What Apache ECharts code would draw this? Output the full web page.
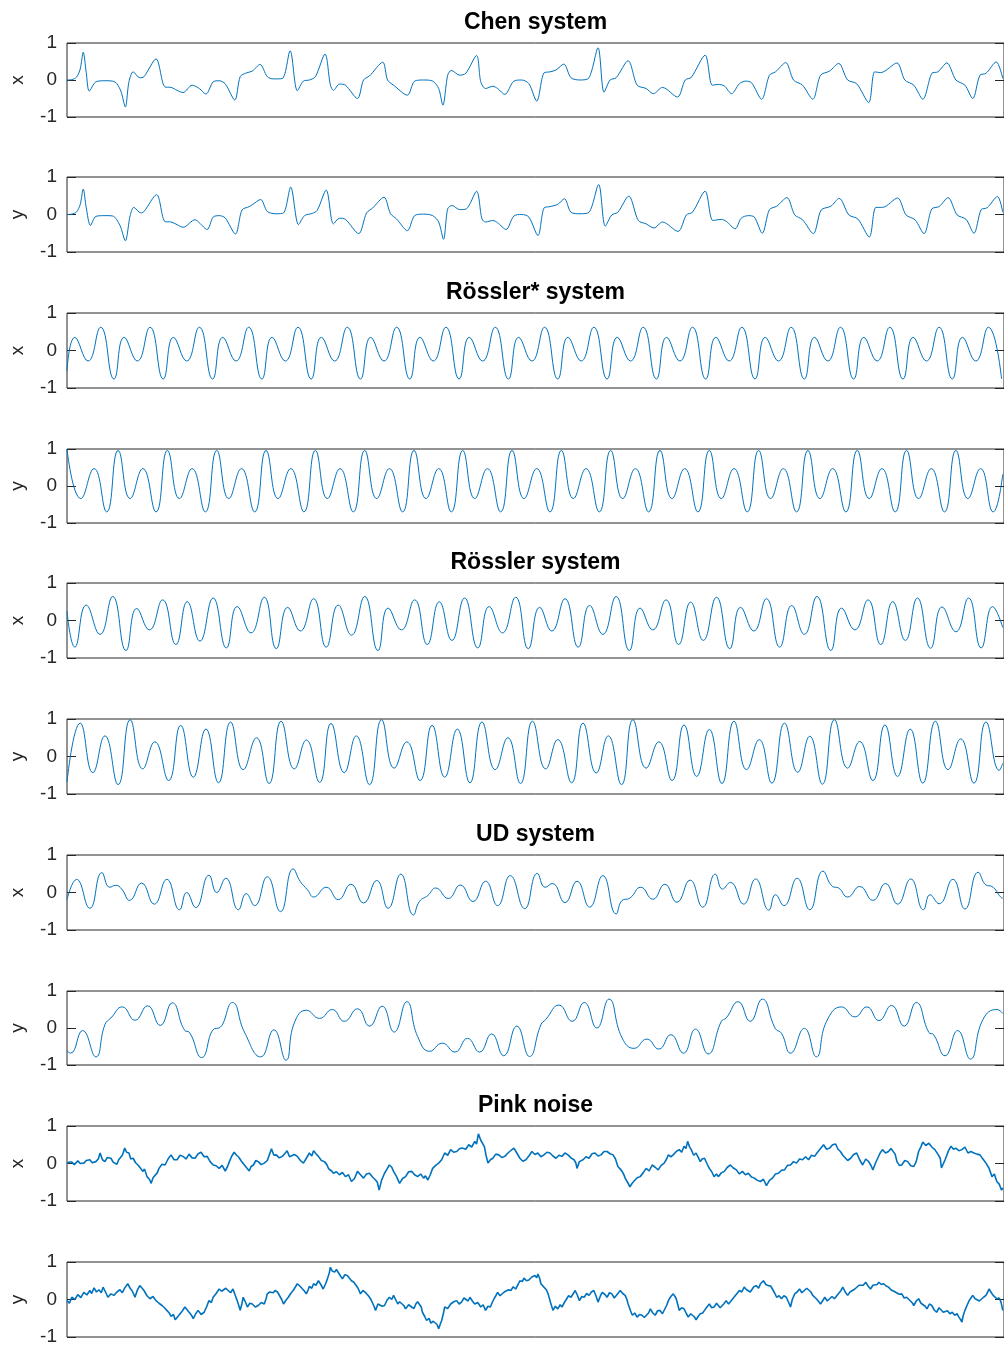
<!DOCTYPE html>
<html><head><meta charset="utf-8">
<script src="https://cdn.jsdelivr.net/npm/echarts@6/dist/echarts.min.js"></script>
<style>html,body{margin:0;padding:0;background:#fff;} #c{width:1004px;height:1347px;}</style>
</head><body><div id="c"></div>
<script>
// ---- Titles and axis names ----
const panelTitles = ['Chen system', '', 'Rössler* system', '', 'Rössler system', '', 'UD system', '', 'Pink noise', ''];
const axisNames = ['x', 'y', 'x', 'y', 'x', 'y', 'x', 'y', 'x', 'y'];
const yTicks = [-1, 0, 1];

// ---- Series data: [time, value] ----
const chenX = [[0,0.00],[8,0.01],[16,0.08],[22,0.30],[27,0.75],[32,0.20],[37,-0.30],[48,-0.05],[63,-0.02],[76,-0.03],[83,-0.10],[90,-0.32],[97,-0.73],[103,-0.05],[110,0.22],[121,0.06],[128,0.09],[148,0.57],[163,-0.19],[173,-0.20],[183,-0.28],[193,-0.34],[208,-0.14],[220,-0.23],[231,-0.38],[243,-0.05],[253,-0.02],[263,-0.10],[279,-0.54],[288,0.09],[298,0.19],[308,0.24],[321,0.42],[333,0.09],[343,0.03],[358,0.04],[371,0.79],[383,-0.29],[393,-0.03],[403,0.00],[413,0.09],[429,0.70],[438,-0.14],[443,-0.28],[453,-0.11],[463,-0.14],[483,-0.50],[493,0.00],[503,0.11],[525,0.48],[533,0.00],[543,-0.14],[566,-0.41],[578,-0.03],[593,0.00],[608,-0.03],[618,-0.23],[625,-0.68],[633,0.13],[639,0.26],[653,0.13],[663,0.18],[681,0.66],[688,-0.05],[696,-0.23],[708,-0.17],[716,-0.23],[728,-0.39],[743,-0.03],[756,0.00],[768,-0.10],[781,-0.57],[793,0.19],[803,0.22],[813,0.27],[826,0.43],[838,0.06],[853,0.00],[868,0.06],[883,0.87],[893,-0.33],[903,0.00],[913,0.06],[933,0.52],[948,-0.14],[963,-0.23],[975,-0.37],[990,-0.20],[1015,-0.46],[1028,0.00],[1038,0.07],[1061,0.67],[1073,-0.14],[1083,-0.12],[1093,-0.16],[1105,-0.37],[1118,-0.10],[1128,-0.03],[1138,-0.07],[1155,-0.52],[1168,0.13],[1178,0.22],[1195,0.47],[1208,0.00],[1223,-0.14],[1240,-0.52],[1253,0.13],[1268,0.24],[1283,0.45],[1298,0.00],[1313,-0.10],[1333,-0.61],[1343,0.22],[1353,0.20],[1380,0.46],[1393,0.00],[1408,-0.14],[1423,-0.52],[1438,0.18],[1448,0.22],[1463,0.46],[1478,0.00],[1493,-0.14],[1506,-0.50],[1518,0.13],[1528,0.18],[1545,0.49],[1556,0.04]];

const chenY = [[0,0.00],[8,0.01],[16,0.07],[22,0.27],[27,0.68],[32,0.18],[39,-0.29],[48,-0.05],[63,-0.03],[76,-0.04],[88,-0.29],[97,-0.70],[105,-0.03],[111,0.19],[123,0.04],[128,0.08],[149,0.53],[163,-0.19],[173,-0.20],[183,-0.27],[193,-0.34],[213,-0.14],[220,-0.22],[233,-0.40],[243,-0.07],[253,-0.03],[263,-0.09],[280,-0.52],[291,0.12],[303,0.21],[308,0.26],[322,0.40],[333,0.08],[348,0.02],[360,0.04],[372,0.73],[385,-0.27],[395,-0.03],[408,0.03],[416,0.11],[431,0.65],[443,-0.25],[453,-0.10],[463,-0.13],[485,-0.51],[498,0.04],[508,0.17],[527,0.46],[538,0.02],[548,-0.12],[566,-0.43],[578,-0.03],[593,0.01],[608,-0.03],[618,-0.20],[626,-0.66],[633,0.15],[640,0.24],[653,0.13],[664,0.15],[681,0.62],[690,-0.12],[696,-0.20],[708,-0.16],[716,-0.22],[730,-0.40],[743,-0.04],[756,0.00],[768,-0.07],[783,-0.56],[793,0.17],[803,0.21],[816,0.27],[827,0.42],[838,0.06],[853,0.02],[868,0.06],[884,0.80],[895,-0.31],[906,-0.01],[916,0.06],[934,0.49],[950,-0.16],[963,-0.25],[976,-0.36],[990,-0.20],[1016,-0.45],[1030,-0.01],[1040,0.06],[1061,0.62],[1074,-0.16],[1088,-0.13],[1096,-0.18],[1111,-0.38],[1121,-0.10],[1133,-0.03],[1143,-0.07],[1156,-0.50],[1168,0.13],[1180,0.22],[1197,0.45],[1210,-0.01],[1223,-0.14],[1241,-0.51],[1254,0.12],[1270,0.22],[1284,0.43],[1300,-0.01],[1315,-0.12],[1334,-0.60],[1345,0.19],[1356,0.19],[1381,0.44],[1395,-0.01],[1410,-0.14],[1425,-0.51],[1438,0.15],[1450,0.21],[1465,0.45],[1480,-0.01],[1495,-0.13],[1508,-0.50],[1520,0.13],[1530,0.18],[1547,0.48],[1556,0.06]];

const rosStarX = [[0,-0.55],[13,0.35],[35,-0.28],[56,0.62],[78,-0.76],[95,0.35],[117,-0.28],[138,0.62],[160,-0.76],[177,0.35],[199,-0.28],[220,0.62],[242,-0.76],[259,0.35],[281,-0.28],[302,0.62],[324,-0.76],[341,0.35],[363,-0.28],[384,0.62],[406,-0.76],[423,0.35],[445,-0.28],[466,0.62],[488,-0.76],[505,0.35],[527,-0.28],[548,0.62],[570,-0.76],[587,0.35],[609,-0.28],[630,0.62],[652,-0.76],[669,0.35],[691,-0.28],[712,0.62],[734,-0.76],[751,0.35],[773,-0.28],[794,0.62],[816,-0.76],[833,0.35],[855,-0.28],[876,0.62],[898,-0.76],[915,0.35],[937,-0.28],[958,0.62],[980,-0.76],[997,0.35],[1019,-0.28],[1040,0.62],[1062,-0.76],[1079,0.35],[1101,-0.28],[1122,0.62],[1144,-0.76],[1161,0.35],[1183,-0.28],[1204,0.62],[1226,-0.76],[1243,0.35],[1265,-0.28],[1286,0.62],[1308,-0.76],[1325,0.35],[1347,-0.28],[1368,0.62],[1390,-0.76],[1407,0.35],[1429,-0.28],[1450,0.62],[1472,-0.76],[1489,0.35],[1511,-0.28],[1532,0.62],[1554,-0.76]];

const rosStarY = [[0,1.00],[23,-0.34],[45,0.47],[66,-0.70],[85,0.96],[105,-0.34],[126,0.47],[148,-0.70],[167,0.96],[187,-0.34],[208,0.47],[230,-0.70],[249,0.96],[269,-0.34],[290,0.47],[312,-0.70],[331,0.96],[351,-0.34],[372,0.47],[394,-0.70],[413,0.96],[433,-0.34],[454,0.47],[476,-0.70],[495,0.96],[515,-0.34],[536,0.47],[558,-0.70],[577,0.96],[597,-0.34],[618,0.47],[639,-0.70],[658,0.96],[678,-0.34],[699,0.47],[721,-0.70],[740,0.96],[760,-0.34],[781,0.47],[803,-0.70],[822,0.96],[842,-0.34],[863,0.47],[885,-0.70],[904,0.96],[924,-0.34],[945,0.47],[967,-0.70],[986,0.96],[1006,-0.34],[1027,0.47],[1049,-0.70],[1068,0.96],[1088,-0.34],[1109,0.47],[1131,-0.70],[1150,0.96],[1170,-0.34],[1191,0.47],[1213,-0.70],[1232,0.96],[1252,-0.34],[1273,0.47],[1295,-0.70],[1314,0.96],[1334,-0.34],[1355,0.47],[1377,-0.70],[1396,0.96],[1416,-0.34],[1437,0.47],[1459,-0.70],[1478,0.96],[1498,-0.34],[1519,0.47],[1540,-0.70],[1556,0.32]];

const rosX = [[0,0.25],[13,-0.71],[32,0.41],[55,-0.37],[76,0.64],[98,-0.80],[116,0.32],[137,-0.25],[159,0.55],[181,-0.64],[200,0.50],[221,-0.55],[243,0.60],[265,-0.73],[283,0.37],[306,-0.33],[328,0.62],[348,-0.75],[367,0.35],[388,-0.28],[410,0.58],[431,-0.71],[451,0.41],[473,-0.39],[495,0.64],[517,-0.80],[534,0.33],[556,-0.25],[578,0.55],[599,-0.64],[619,0.50],[640,-0.53],[661,0.60],[683,-0.73],[702,0.37],[724,-0.33],[746,0.62],[767,-0.75],[786,0.35],[806,-0.28],[828,0.58],[850,-0.71],[869,0.40],[891,-0.37],[913,0.64],[935,-0.80],[953,0.33],[974,-0.25],[996,0.55],[1017,-0.64],[1037,0.49],[1058,-0.53],[1080,0.62],[1102,-0.75],[1120,0.35],[1142,-0.28],[1163,0.58],[1185,-0.71],[1205,0.40],[1226,-0.37],[1247,0.64],[1270,-0.80],[1288,0.33],[1310,-0.25],[1332,0.55],[1353,-0.64],[1373,0.50],[1394,-0.53],[1414,0.60],[1436,-0.74],[1455,0.36],[1478,-0.30],[1499,0.60],[1520,-0.73],[1539,0.37],[1556,-0.19]];

const rosY = [[0,-0.68],[22,0.89],[43,-0.43],[63,0.55],[85,-0.75],[105,0.98],[126,-0.33],[146,0.39],[169,-0.64],[189,0.83],[210,-0.55],[231,0.73],[252,-0.70],[272,0.92],[293,-0.35],[315,0.50],[336,-0.72],[356,0.94],[378,-0.33],[398,0.44],[420,-0.69],[439,0.88],[461,-0.43],[481,0.55],[503,-0.75],[523,0.98],[544,-0.31],[565,0.39],[587,-0.64],[607,0.83],[628,-0.55],[649,0.73],[670,-0.70],[690,0.92],[712,-0.35],[733,0.50],[754,-0.72],[774,0.94],[796,-0.33],[816,0.45],[839,-0.70],[858,0.89],[880,-0.44],[900,0.55],[922,-0.75],[941,0.98],[963,-0.31],[984,0.39],[1006,-0.64],[1026,0.84],[1047,-0.53],[1068,0.72],[1089,-0.72],[1109,0.94],[1130,-0.35],[1151,0.45],[1172,-0.71],[1193,0.89],[1215,-0.42],[1235,0.54],[1256,-0.74],[1276,0.98],[1298,-0.31],[1318,0.40],[1340,-0.64],[1360,0.84],[1381,-0.53],[1402,0.73],[1423,-0.71],[1444,0.94],[1465,-0.35],[1486,0.47],[1508,-0.71],[1528,0.92],[1550,-0.37],[1556,-0.18]];

const udX = [[0,-0.19],[16,0.35],[38,-0.42],[58,0.53],[71,0.14],[81,0.19],[91,0.09],[104,-0.21],[124,0.25],[145,-0.31],[166,0.35],[187,-0.46],[199,0.00],[214,-0.40],[236,0.46],[249,0.00],[264,0.38],[285,-0.46],[298,-0.03],[312,-0.35],[333,0.42],[355,-0.51],[376,0.63],[388,0.29],[400,0.07],[410,-0.12],[431,0.14],[451,-0.19],[472,0.22],[493,-0.28],[515,0.32],[534,-0.42],[555,0.49],[576,-0.60],[586,-0.24],[600,-0.08],[613,0.12],[634,-0.16],[654,0.20],[675,-0.24],[696,0.30],[716,-0.35],[737,0.45],[761,-0.43],[782,0.51],[795,0.14],[807,0.24],[828,-0.27],[848,0.30],[869,-0.39],[891,0.45],[913,-0.57],[923,-0.21],[936,-0.15],[954,0.14],[974,-0.18],[994,0.22],[1014,-0.26],[1036,0.33],[1057,-0.39],[1078,0.49],[1090,0.09],[1103,0.27],[1125,-0.31],[1145,0.36],[1167,-0.47],[1178,-0.06],[1192,-0.35],[1214,0.38],[1235,-0.46],[1257,0.57],[1273,0.16],[1283,0.12],[1298,-0.12],[1318,0.16],[1340,-0.21],[1361,0.24],[1381,-0.31],[1403,0.36],[1424,-0.46],[1435,-0.06],[1450,-0.30],[1473,0.35],[1493,-0.44],[1515,0.54],[1528,0.20],[1538,0.16],[1553,-0.13],[1556,-0.15]];

const udY = [[0,-0.62],[6,-0.68],[26,-0.07],[48,-0.78],[63,0.09],[73,0.27],[92,0.57],[113,0.21],[134,0.60],[155,0.07],[175,0.68],[196,-0.07],[203,-0.11],[224,-0.80],[245,-0.02],[253,0.00],[275,0.69],[295,-0.11],[322,-0.78],[344,-0.05],[364,-0.87],[378,0.14],[398,0.48],[420,0.26],[441,0.50],[461,0.18],[483,0.52],[503,0.05],[524,0.59],[544,-0.11],[565,0.71],[583,-0.23],[603,-0.63],[624,-0.41],[645,-0.65],[666,-0.28],[686,-0.65],[706,-0.16],[726,-0.75],[748,0.05],[769,-0.77],[788,0.09],[796,0.23],[818,0.62],[840,0.18],[860,0.69],[881,0.00],[901,0.78],[923,-0.27],[943,-0.55],[964,-0.30],[984,-0.57],[1004,-0.18],[1025,-0.68],[1045,-0.03],[1066,-0.70],[1088,0.18],[1096,0.27],[1116,0.71],[1136,0.18],[1156,0.78],[1178,-0.02],[1188,-0.14],[1203,-0.68],[1226,-0.01],[1246,-0.78],[1263,0.18],[1288,0.57],[1310,0.30],[1330,0.57],[1350,0.20],[1371,0.61],[1392,0.05],[1412,0.69],[1433,-0.12],[1441,-0.18],[1460,-0.75],[1481,-0.07],[1502,-0.84],[1523,0.23],[1546,0.50],[1556,0.39]];

const pinkX = [[0,0.00],[4,0.04],[8,0.04],[12,-0.03],[18,0.07],[22,0.00],[28,0.01],[32,0.08],[38,0.10],[42,0.02],[48,0.05],[52,0.12],[55,0.28],[59,0.10],[63,0.05],[67,0.16],[73,0.14],[77,0.03],[83,-0.02],[86,0.10],[88,0.10],[92,0.22],[96,0.41],[99,0.30],[103,0.28],[106,0.12],[110,0.14],[114,0.02],[118,-0.04],[122,-0.12],[126,-0.21],[129,-0.15],[133,-0.35],[137,-0.42],[140,-0.53],[143,-0.38],[146,-0.35],[150,-0.25],[153,-0.13],[158,-0.02],[163,-0.04],[168,0.12],[173,0.23],[178,0.10],[183,0.10],[188,0.22],[193,0.19],[198,0.12],[203,0.25],[208,0.15],[213,0.14],[218,0.26],[223,0.30],[228,0.18],[233,0.19],[238,0.05],[243,-0.04],[248,-0.06],[253,-0.13],[258,-0.05],[263,-0.20],[267,-0.08],[270,0.05],[274,0.20],[278,0.30],[282,0.22],[286,0.16],[290,0.06],[293,0.01],[298,-0.10],[303,-0.20],[306,-0.08],[310,-0.04],[314,0.08],[318,0.05],[323,-0.03],[328,0.01],[333,0.08],[336,0.05],[340,0.39],[344,0.22],[348,0.23],[353,0.15],[358,0.19],[362,0.26],[366,0.34],[370,0.18],[373,0.14],[378,0.24],[383,0.19],[388,0.08],[393,0.01],[398,0.14],[403,0.28],[407,0.20],[410,0.34],[414,0.26],[418,0.19],[423,0.08],[428,0.05],[432,-0.03],[435,-0.14],[440,-0.20],[443,-0.26],[448,-0.22],[453,-0.30],[458,-0.24],[463,-0.35],[468,-0.30],[473,-0.48],[478,-0.40],[483,-0.21],[488,-0.30],[493,-0.39],[498,-0.28],[503,-0.26],[508,-0.36],[513,-0.44],[516,-0.50],[519,-0.71],[523,-0.45],[528,-0.26],[532,-0.15],[536,-0.04],[540,-0.10],[543,-0.21],[548,-0.35],[553,-0.53],[558,-0.40],[563,-0.35],[568,-0.22],[573,-0.21],[578,-0.30],[583,-0.35],[588,-0.28],[593,-0.39],[596,-0.33],[600,-0.44],[604,-0.30],[608,-0.13],[613,-0.05],[618,0.01],[623,0.10],[628,0.28],[633,0.22],[638,0.37],[643,0.30],[648,0.32],[653,0.40],[658,0.41],[663,0.38],[668,0.50],[673,0.44],[678,0.59],[681,0.52],[684,0.79],[688,0.62],[690,0.63],[694,0.45],[697,0.20],[700,0.01],[704,0.10],[708,0.14],[713,0.25],[718,0.23],[723,0.16],[728,0.19],[732,0.26],[736,0.32],[739,0.35],[743,0.41],[748,0.28],[753,0.14],[758,0.06],[763,0.10],[768,0.20],[773,0.32],[778,0.24],[783,0.28],[788,0.18],[793,0.23],[798,0.30],[803,0.28],[808,0.20],[813,0.14],[818,0.22],[823,0.19],[828,0.28],[833,0.23],[838,0.15],[843,0.10],[846,0.02],[848,-0.13],[852,0.05],[858,0.10],[863,0.18],[868,0.14],[873,0.26],[878,0.28],[883,0.20],[888,0.23],[893,0.32],[898,0.32],[903,0.26],[908,0.23],[912,0.12],[916,-0.08],[920,-0.15],[923,-0.21],[926,-0.30],[928,-0.39],[932,-0.50],[936,-0.62],[940,-0.52],[943,-0.48],[948,-0.38],[953,-0.35],[958,-0.25],[963,-0.13],[968,-0.20],[973,-0.04],[978,-0.10],[983,-0.17],[988,-0.05],[993,0.01],[997,0.12],[1000,0.23],[1004,0.18],[1008,0.23],[1013,0.32],[1018,0.37],[1022,0.30],[1026,0.46],[1029,0.40],[1032,0.59],[1035,0.45],[1038,0.37],[1042,0.22],[1046,0.28],[1050,0.15],[1053,0.05],[1056,0.12],[1060,0.14],[1064,0.00],[1068,-0.13],[1072,-0.22],[1076,-0.35],[1080,-0.28],[1083,-0.35],[1088,-0.25],[1093,-0.21],[1098,-0.10],[1103,-0.04],[1108,-0.12],[1113,-0.17],[1118,-0.28],[1123,-0.21],[1128,-0.30],[1133,-0.26],[1138,-0.36],[1143,-0.39],[1148,-0.45],[1153,-0.48],[1158,-0.42],[1163,-0.59],[1168,-0.45],[1173,-0.39],[1178,-0.28],[1183,-0.26],[1188,-0.18],[1193,-0.17],[1198,-0.05],[1203,-0.04],[1208,0.05],[1213,0.01],[1218,0.12],[1223,0.10],[1228,0.18],[1233,0.10],[1238,0.22],[1243,0.19],[1247,0.28],[1250,0.32],[1254,0.42],[1258,0.50],[1263,0.38],[1268,0.41],[1273,0.50],[1278,0.52],[1282,0.38],[1286,0.32],[1290,0.22],[1293,0.19],[1298,0.08],[1303,0.14],[1308,0.24],[1313,0.28],[1318,0.10],[1323,-0.04],[1328,0.12],[1333,0.05],[1337,-0.06],[1340,-0.17],[1344,0.00],[1348,0.14],[1352,0.28],[1356,0.37],[1361,0.28],[1366,0.32],[1370,0.40],[1373,0.43],[1377,0.25],[1380,0.05],[1384,-0.05],[1388,-0.04],[1393,0.08],[1398,0.05],[1403,-0.06],[1408,-0.08],[1412,0.05],[1416,0.32],[1420,0.45],[1423,0.57],[1428,0.48],[1433,0.54],[1438,0.44],[1443,0.37],[1448,0.25],[1452,0.14],[1454,-0.12],[1456,-0.13],[1460,0.10],[1463,0.14],[1466,0.35],[1470,0.46],[1474,0.38],[1478,0.41],[1483,0.34],[1488,0.37],[1493,0.44],[1498,0.28],[1503,0.32],[1508,0.28],[1513,0.25],[1518,0.23],[1523,0.12],[1528,0.01],[1533,-0.12],[1538,-0.35],[1542,-0.28],[1546,-0.48],[1550,-0.55],[1554,-0.71],[1556,-0.65]];

const pinkY = [[0,-0.03],[4,-0.10],[8,0.06],[13,0.00],[18,0.13],[23,0.05],[28,0.19],[33,0.12],[38,0.24],[41,0.16],[45,0.31],[49,0.20],[53,0.26],[57,0.18],[60,0.33],[64,0.20],[68,0.06],[73,0.15],[78,0.11],[83,0.20],[88,0.26],[92,0.18],[96,0.31],[99,0.36],[101,0.42],[105,0.30],[108,0.24],[111,0.14],[113,0.06],[117,0.25],[121,0.37],[125,0.30],[128,0.24],[133,0.10],[138,0.02],[143,0.08],[148,-0.03],[153,-0.10],[158,-0.16],[162,-0.22],[166,-0.29],[170,-0.36],[173,-0.45],[177,-0.40],[180,-0.54],[184,-0.46],[188,-0.38],[192,-0.30],[196,-0.20],[200,-0.28],[203,-0.34],[207,-0.42],[210,-0.51],[214,-0.38],[218,-0.29],[223,-0.40],[228,-0.34],[232,-0.20],[236,-0.03],[240,-0.08],[243,0.06],[248,0.16],[253,0.28],[257,0.22],[260,0.19],[264,0.30],[268,0.24],[272,0.18],[276,0.28],[280,0.10],[283,-0.03],[286,-0.18],[288,-0.29],[291,-0.10],[293,0.06],[297,-0.08],[300,-0.20],[304,-0.10],[308,-0.12],[313,-0.20],[318,-0.16],[323,-0.08],[328,-0.12],[331,0.02],[333,0.15],[337,0.20],[340,0.24],[343,0.18],[346,0.24],[350,0.20],[353,0.15],[357,0.00],[360,-0.12],[364,-0.02],[368,0.06],[372,0.16],[376,0.24],[380,0.34],[383,0.42],[387,0.36],[390,0.33],[394,0.24],[398,0.15],[401,0.26],[403,0.35],[407,0.30],[410,0.42],[414,0.38],[418,0.50],[422,0.40],[426,0.28],[430,0.42],[433,0.55],[436,0.70],[438,0.86],[441,0.76],[445,0.73],[448,0.80],[451,0.77],[455,0.62],[458,0.55],[462,0.66],[466,0.64],[470,0.56],[473,0.50],[477,0.46],[480,0.42],[484,0.30],[488,0.15],[492,0.24],[496,0.19],[500,0.12],[503,0.06],[506,-0.02],[508,-0.07],[511,-0.20],[513,-0.29],[517,-0.12],[520,-0.07],[524,-0.18],[528,-0.16],[532,-0.02],[536,0.06],[540,0.00],[543,0.11],[547,-0.02],[550,-0.12],[553,-0.06],[556,-0.03],[560,-0.16],[563,-0.25],[568,-0.14],[573,-0.20],[577,-0.24],[580,-0.12],[583,-0.06],[586,-0.03],[589,-0.20],[591,-0.34],[595,-0.46],[598,-0.56],[602,-0.50],[605,-0.63],[609,-0.58],[612,-0.54],[615,-0.66],[618,-0.78],[621,-0.64],[623,-0.56],[626,-0.36],[628,-0.20],[633,-0.24],[638,-0.12],[643,-0.06],[648,-0.03],[652,-0.12],[656,-0.07],[660,0.04],[663,0.02],[667,-0.04],[670,0.06],[674,-0.04],[678,-0.12],[683,-0.08],[688,-0.20],[692,-0.14],[696,-0.29],[700,-0.18],[704,-0.20],[707,-0.08],[710,0.02],[713,0.10],[716,0.19],[720,0.10],[723,0.06],[727,0.20],[730,0.15],[734,0.26],[738,0.24],[742,0.34],[746,0.28],[750,0.40],[753,0.50],[757,0.48],[760,0.57],[764,0.50],[768,0.52],[773,0.60],[778,0.64],[781,0.58],[783,0.68],[786,0.56],[788,0.42],[791,0.38],[793,0.33],[797,0.26],[800,0.15],[804,-0.08],[808,-0.29],[812,-0.18],[816,-0.25],[820,-0.14],[823,-0.20],[827,-0.08],[830,-0.03],[834,0.10],[838,0.06],[842,0.16],[845,0.24],[849,0.10],[852,-0.03],[856,0.08],[860,0.06],[864,0.16],[868,0.11],[872,0.20],[876,0.24],[880,0.08],[883,-0.07],[887,0.10],[890,0.19],[894,0.14],[898,0.06],[902,0.18],[906,0.15],[910,0.04],[913,0.06],[917,0.18],[920,0.24],[924,0.16],[928,0.11],[931,0.00],[933,-0.12],[937,-0.30],[940,-0.42],[944,-0.36],[948,-0.47],[952,-0.40],[956,-0.42],[960,-0.48],[963,-0.51],[967,-0.36],[970,-0.25],[974,-0.36],[978,-0.42],[982,-0.30],[986,-0.29],[990,-0.38],[993,-0.34],[997,-0.16],[1000,-0.03],[1004,0.08],[1008,0.15],[1011,0.08],[1013,0.02],[1016,-0.16],[1018,-0.29],[1022,-0.22],[1026,-0.25],[1030,-0.38],[1033,-0.47],[1037,-0.38],[1040,-0.34],[1043,-0.46],[1046,-0.54],[1050,-0.44],[1053,-0.38],[1057,-0.36],[1060,-0.29],[1064,-0.20],[1068,-0.12],[1072,-0.22],[1076,-0.20],[1080,-0.10],[1083,-0.12],[1086,-0.22],[1088,-0.25],[1092,-0.12],[1096,-0.03],[1100,-0.12],[1103,-0.07],[1107,0.02],[1110,0.06],[1114,0.16],[1118,0.24],[1122,0.20],[1126,0.33],[1130,0.26],[1133,0.28],[1136,0.20],[1138,0.24],[1142,0.34],[1146,0.37],[1150,0.30],[1153,0.42],[1156,0.38],[1158,0.50],[1162,0.40],[1166,0.37],[1170,0.36],[1173,0.28],[1177,0.16],[1180,0.06],[1184,0.10],[1188,0.02],[1192,0.10],[1196,0.06],[1200,-0.08],[1203,-0.20],[1206,0.00],[1210,0.15],[1214,0.20],[1218,0.28],[1222,0.18],[1226,0.24],[1230,0.30],[1233,0.33],[1237,0.20],[1240,0.11],[1243,0.06],[1246,0.02],[1250,-0.06],[1253,-0.12],[1257,-0.02],[1260,0.06],[1264,-0.04],[1268,0.02],[1272,0.08],[1276,0.02],[1280,0.10],[1283,0.15],[1287,0.24],[1290,0.33],[1294,0.20],[1298,0.11],[1302,0.20],[1306,0.24],[1310,0.28],[1313,0.33],[1317,0.38],[1320,0.42],[1324,0.38],[1328,0.46],[1332,0.36],[1336,0.28],[1340,0.38],[1343,0.42],[1347,0.40],[1350,0.46],[1354,0.40],[1358,0.42],[1362,0.36],[1366,0.33],[1370,0.26],[1373,0.28],[1377,0.20],[1380,0.24],[1384,0.14],[1388,0.15],[1392,0.04],[1396,0.06],[1400,0.00],[1403,-0.03],[1406,-0.10],[1408,-0.16],[1412,-0.04],[1416,0.02],[1420,-0.10],[1423,-0.07],[1427,-0.18],[1430,-0.25],[1434,-0.12],[1438,-0.16],[1442,-0.28],[1446,-0.34],[1450,-0.22],[1453,-0.25],[1457,-0.34],[1460,-0.29],[1464,-0.30],[1468,-0.38],[1472,-0.34],[1476,-0.42],[1480,-0.38],[1483,-0.47],[1486,-0.54],[1488,-0.60],[1490,-0.44],[1493,-0.29],[1497,-0.14],[1500,-0.03],[1503,0.04],[1506,0.11],[1510,0.02],[1513,0.06],[1517,-0.04],[1520,-0.03],[1524,0.06],[1528,0.11],[1531,0.20],[1533,0.28],[1537,0.18],[1540,0.11],[1543,0.06],[1546,0.02],[1550,0.04],[1553,-0.07],[1556,-0.29]];

const seriesData = [chenX, chenY, rosStarX, rosStarY, rosX, rosY, udX, udY, pinkX, pinkY];
const smoothing = [0.3, 0.3, 0.5, 0.5, 0.5, 0.5, 0.5, 0.5, false, false];
const lineWidths = [1, 1, 1, 1, 1, 1, 1, 1, 1.6, 1.6];

// ---- Layout (pixels) ----
const gridTops = [43, 177, 313, 449, 583, 719, 855, 991, 1126, 1262];
const gridHeights = [74, 75, 75, 74, 75, 75, 75, 74, 75, 75];
const FONT = "'Liberation Sans', Arial, Helvetica, sans-serif";
const AX = '#262626';

const grids = [], xAxes = [], yAxes = [], series = [], titles = [];
for (let i = 0; i < 10; i++) {
  grids.push({left: 67, width: 938, top: gridTops[i], height: gridHeights[i], show: true,
    borderColor: AX, borderWidth: 1, backgroundColor: '#fff', containLabel: false});
  xAxes.push({gridIndex: i, type: 'value', min: 0, max: 1558, show: false});
  yAxes.push({gridIndex: i, type: 'value', position: 'left', min: -1, max: 1, interval: 1,
    axisLine: {show: false},
    axisTick: {show: true, inside: true, length: 9, lineStyle: {color: AX, width: 1}},
    axisLabel: {fontSize: 19, color: AX, margin: 10, fontFamily: FONT},
    splitLine: {show: false},
    name: axisNames[i], nameLocation: 'middle', nameGap: 40, nameRotate: 90,
    nameTextStyle: {fontSize: 19, color: AX, fontFamily: FONT}});
  yAxes.push({gridIndex: i, type: 'value', position: 'right', min: -1, max: 1, interval: 1,
    axisLine: {show: false},
    axisTick: {show: true, inside: true, length: 9, lineStyle: {color: AX, width: 1}},
    axisLabel: {show: false}, splitLine: {show: false}});
  series.push({type: 'line', xAxisIndex: i, yAxisIndex: 2 * i, data: seriesData[i],
    symbol: 'none', showSymbol: false, smooth: smoothing[i], silent: true,
    lineStyle: {color: '#0072BD', width: lineWidths[i]}, z: 3});
  if (panelTitles[i]) {
    titles.push({text: panelTitles[i], left: 535.5, top: gridTops[i] - 32, textAlign: 'center', padding: 0,
      textStyle: {fontSize: 23, fontWeight: 'bold', color: '#000', fontFamily: FONT}});
  }
}

const chart = echarts.init(document.getElementById('c'), null, {renderer: 'canvas'});
chart.setOption({animation: false, backgroundColor: '#fff', title: titles,
  grid: grids, xAxis: xAxes, yAxis: yAxes, series: series});
</script></body></html>
